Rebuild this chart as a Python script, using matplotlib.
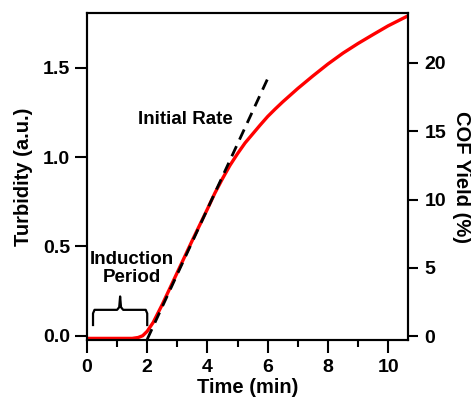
import matplotlib
matplotlib.use("Agg")
import matplotlib.pyplot as plt
from matplotlib.ticker import MultipleLocator

plt.rcParams['font.family'] = ['Liberation Sans', 'DejaVu Sans']
plt.rcParams['font.weight'] = 'bold'

# Turbidity curve (red)
time_min = [0.0, 0.5, 1.0, 1.5, 1.7, 1.85, 2.0, 2.2, 2.5, 3.0, 3.5, 4.0, 4.25, 4.5,
            4.75, 5.0, 5.25, 5.5, 5.75, 6.0, 6.25, 6.5, 7.0, 7.5, 8.0, 8.5,
            9.0, 9.5, 10.0, 10.6]
turbidity = [-0.015, -0.015, -0.015, -0.015, -0.01, 0.0, 0.025, 0.075, 0.175, 0.355,
             0.535, 0.71, 0.80, 0.88, 0.955, 1.02, 1.08, 1.13, 1.18, 1.228, 1.27,
             1.31, 1.385, 1.455, 1.522, 1.583, 1.637, 1.687, 1.736, 1.787]

# Initial rate fit (dashed)
fit_time = [2.0, 6.0]
fit_turbidity = [-0.02, 1.44]

x_ticks = [0, 2, 4, 6, 8, 10]
left_ticks = [0.0, 0.5, 1.0, 1.5]
right_ticks = [0, 5, 10, 15, 20]

fig = plt.figure(figsize=(4.71, 4.01), dpi=100)
ax = fig.add_axes([0.1847, 0.1521, 0.6815, 0.8155])

ax.plot(fit_time, fit_turbidity, color='black', lw=2.0, ls=(0, (4, 2.6)), zorder=3)
ax.plot(time_min, turbidity, color='#ff0000', lw=2.4, zorder=2)

ax.set_xlim(0, 10.66)
ax.set_ylim(-0.024, 1.808)
ax.set_xticks(x_ticks)
ax.xaxis.set_minor_locator(MultipleLocator(1))
ax.set_yticks(left_ticks)
ax.set_yticklabels(['%.1f' % v for v in left_ticks])

for s in ax.spines.values():
    s.set_linewidth(1.5)

ax.tick_params(axis='both', which='major', length=9, width=1.5, labelsize=14, pad=3)
ax.tick_params(axis='x', which='major', pad=5)
ax.tick_params(axis='x', which='minor', length=5, width=1.5)
ax.set_xlabel('Time (min)', fontsize=14.5, fontweight='bold', labelpad=1)
ax.set_ylabel('Turbidity (a.u.)', fontsize=14.5, fontweight='bold', labelpad=7)

ax2 = ax.twinx()
ax2.set_ylim(-0.29, 23.66)
ax2.set_yticks(right_ticks)
ax2.tick_params(axis='y', which='major', length=7, width=1.5, labelsize=14, pad=5)
ax2.set_ylabel('COF Yield (%)', fontsize=14.5, fontweight='bold', rotation=270, labelpad=18)
for s in ax2.spines.values():
    s.set_linewidth(1.5)

# Annotations
ax.text(3.28, 1.21, 'Initial Rate', fontsize=13.5, fontweight='bold', ha='center', va='center')
ax.text(1.5, 0.375, 'Induction\nPeriod', fontsize=13.5, fontweight='bold', ha='center',
        va='center', linespacing=1.1)

# Curly brace over induction period
bx = [0.2, 0.2, 0.25, 1.0, 1.07, 1.1, 1.13, 1.2, 1.95, 2.0, 2.0]
by = [0.06, 0.125, 0.145, 0.145, 0.16, 0.22, 0.16, 0.145, 0.145, 0.125, 0.06]
ax.plot(bx, by, color='black', lw=1.6, solid_joinstyle='round')

fig.savefig('out.png', dpi=100)
